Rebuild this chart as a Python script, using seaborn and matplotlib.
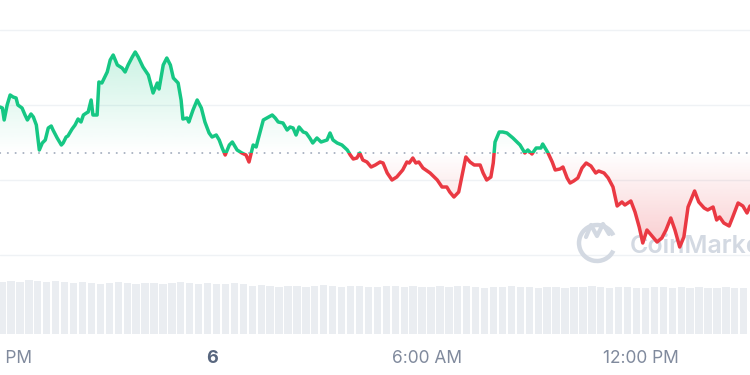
import numpy as np
import pandas as pd
import matplotlib
matplotlib.use("Agg")
import matplotlib.pyplot as plt
import matplotlib.colors as mcolors
import matplotlib.transforms as mtransforms
import seaborn as sns
from matplotlib.patches import Rectangle, Arc
from matplotlib.path import Path
from matplotlib.lines import Line2D

sns.set_style("white")
plt.rcParams['font.family'] = ['Inter', 'DejaVu Sans']

# ---- data (minutes relative to midnight of day 6, price in index units) ----
minutes = [-356, -352, -349, -344, -339, -334, -329, -326, -319, -314, -310, -304, -300, -295,
           -290, -285, -280, -275, -270, -267, -260, -253, -250, -245, -242, -235, -230, -225,
           -220, -216, -211, -208, -203, -200, -193, -190, -185, -176, -171, -166, -159, -151,
           -146, -141, -134, -129, -124, -116, -107, -99, -92, -89, -82, -76, -70, -65, -57,
           -52, -49, -42, -39, -32, -25, -18, -12, -5, 0, 7, 12, 17, 22, 29, 34, 42, 50, 57,
           62, 69, 74, 77, 86, 92, 101, 106, 111, 119, 126, 131, 136, 141, 146, 153, 158, 164,
           169, 176, 183, 193, 198, 203, 210, 218, 227, 232, 237, 243, 248, 253, 260, 267, 274,
           282, 287, 294, 302, 310, 320, 327, 331, 337, 342, 347, 354, 366, 378, 386, 394, 399,
           406, 414, 426, 433, 440, 450, 455, 461, 468, 472, 475, 482, 488, 495, 505, 517, 525,
           530, 537, 544, 552, 555, 564, 571, 576, 584, 589, 596, 601, 607, 614, 621, 628, 636,
           644, 649, 658, 665, 673, 680, 688, 693, 703, 710, 717, 723, 730, 740, 747, 755, 762,
           770, 777, 785, 792, 799, 810, 817, 826, 832, 841, 847, 852, 859, 868, 874, 883, 891,
           898, 903]
price = [223, 222, 210, 225, 235, 233, 232, 225, 222, 215, 210, 216, 213, 205,
         180, 187, 190, 202, 204, 200, 192, 185, 187, 193, 194, 201, 205, 211,
         208, 215, 217, 218, 230, 215, 215, 248, 247, 258, 270, 275, 265, 262,
         258, 265, 273, 278, 273, 263, 255, 237, 247, 241, 265, 272, 265, 252, 247,
         230, 211, 212, 208, 220, 230, 222, 208, 197, 193, 195, 190, 182, 175, 185, 188, 180, 177, 175,
         168, 185, 183, 190, 210, 212, 215, 212, 208, 207, 200, 203, 202, 195, 203, 198, 197, 192,
         187, 192, 188, 190, 197, 190, 187, 185, 180, 175, 171, 172, 177, 170, 168, 163, 165,
         168, 167, 157, 150, 153, 160, 168, 167, 172, 167, 168, 162, 157, 150, 143, 143, 138,
         133, 138, 173, 168, 165, 165, 157, 150, 153, 167, 188, 198, 198, 197, 192, 185, 177,
         180, 176, 182, 182, 186, 177, 168, 160, 161, 163, 152, 147, 149, 152, 162, 167, 164,
         157, 159, 157, 152, 143, 124, 128, 125, 129, 118, 103, 87, 100, 93, 88, 92, 100,
         112, 100, 83, 93, 123, 139, 128, 122, 120, 123, 110, 113, 107, 104, 113, 127, 124,
         117, 124]
open_price = 177

vol_start, vol_step = -360, 15   # 15-minute volume bars
volume = [5.2, 5.3, 5.2, 5.4, 5.3, 5.2, 5.3, 5.2,
          5.1, 5.2, 5.1, 5.0, 5.1, 5.2, 5.1, 5.0, 5.1, 5.1, 5.0, 5.1, 5.2, 5.1, 5.0, 5.1, 5.0, 5.0, 5.1, 5.0,
          4.8, 4.9, 4.8, 4.7, 4.8, 4.8, 4.7, 4.8, 4.9, 4.8,
          4.7, 4.8, 4.8, 4.7, 4.7, 4.8, 4.8, 4.7, 4.8, 4.7,
          4.7, 4.8, 4.7, 4.8, 4.8, 4.7, 4.6, 4.7, 4.7, 4.8,
          4.7, 4.7, 4.6, 4.7, 4.7, 4.6, 4.7, 4.7, 4.8, 4.7,
          4.6, 4.7, 4.7, 4.6, 4.6, 4.7, 4.7, 4.6, 4.7, 4.6,
          4.7, 4.6, 4.6, 4.7, 4.6, 4.6]

tick_minutes = [-360, 0, 360, 720]
tick_labels = ["6:00 PM", "6", "6:00 AM", "12:00 PM"]
grid_levels = [75, 150, 225, 300]

GREEN = "#16c784"
RED = "#ea3943"
XMIN, XMAX = -356, 903

fig = plt.figure(figsize=(7.5, 3.75), dpi=100)
ax = fig.add_axes([0, 105 / 375, 1, 270 / 375])
axv = fig.add_axes([0, 41 / 375, 1, 66 / 375])

df = pd.DataFrame({"t": minutes, "p": price})
x = df["t"].to_numpy(float)
y = df["p"].to_numpy(float)

for g in grid_levels:
    ax.axhline(g, color="#eff2f5", lw=1.0, zorder=0)
ax.axhline(open_price, color="#a7b0c0", lw=1.4, linestyle=(0, (0.1, 3.9)),
           dash_capstyle="round", zorder=1)


def gradient_fill(ax, x, y, base, color, above, amax):
    where = (y >= base) if above else (y <= base)
    coll = ax.fill_between(x, y, base, where=where, interpolate=True,
                           facecolor="none", edgecolor="none", lw=0)
    path = Path.make_compound_path(*coll.get_paths())
    n = 256
    img = np.zeros((n, 1, 4))
    img[:, 0, :3] = mcolors.to_rgb(color)
    if above:
        img[:, 0, 3] = np.linspace(0, amax, n)
        extent = [x.min(), x.max(), base, y.max()]
    else:
        img[:, 0, 3] = np.linspace(amax, 0, n)
        extent = [x.min(), x.max(), y.min(), base]
    im = ax.imshow(img, extent=extent, origin="lower", aspect="auto",
                   zorder=1.5, interpolation="bilinear")
    im.set_clip_path(path, ax.transData)


gradient_fill(ax, x, y, open_price, GREEN, True, 0.22)
gradient_fill(ax, x, y, open_price, RED, False, 0.26)

# watermark
wm = "#d3d9e2"
disp = mtransforms.IdentityTransform()
ax.add_patch(Arc((597, 132), 36, 36, theta1=25, theta2=335, lw=3.2, color=wm,
                 transform=disp, zorder=2))
ax.add_line(Line2D([586, 591, 597, 603, 609], [138, 150, 139, 151, 141],
                   lw=3.0, color=wm, transform=disp, zorder=2, solid_joinstyle="round",
                   solid_capstyle="round"))
ax.text(630, 122, "CoinMarketCap", transform=disp, fontsize=18, color=wm,
        fontweight="semibold", zorder=2, va="baseline", ha="left")

sns.lineplot(x=x, y=y, ax=ax, color=GREEN, lw=2.5, zorder=3)
lg = ax.lines[-1]
lg.set_solid_joinstyle("round")
lg.set_clip_path(Rectangle((XMIN - 200, open_price), 2000, 1000, transform=ax.transData))
sns.lineplot(x=x, y=y, ax=ax, color=RED, lw=2.5, zorder=3)
lr = ax.lines[-1]
lr.set_solid_joinstyle("round")
lr.set_clip_path(Rectangle((XMIN - 200, open_price - 1000), 2000, 1000, transform=ax.transData))

ax.set_xlim(XMIN, XMAX)
ax.set_ylim(60, 330)
ax.set_xticks([])
ax.set_yticks([])
ax.set_xlabel("")
ax.set_ylabel("")
for s in ax.spines.values():
    s.set_visible(False)

vol_t = vol_start + vol_step * (np.arange(len(volume)) + 0.5)
axv.bar(vol_t, volume, width=vol_step * 0.82, color="#eaedf1", lw=0)
axv.set_xlim(XMIN, XMAX)
axv.set_ylim(0, 6.6)
axv.set_xticks([])
axv.set_yticks([])
for s in axv.spines.values():
    s.set_visible(False)

tr = mtransforms.blended_transform_factory(axv.transData, fig.transFigure)
for tm, lab in zip(tick_minutes, tick_labels):
    bold = lab == "6"
    axv.text(tm, 12 / 375, lab, transform=tr, ha="center", va="baseline",
             fontsize=13 if bold else 12.5, fontweight="bold" if bold else "normal",
             color="#58667e" if bold else "#808a9d", clip_on=False)

fig.savefig("out.png", dpi=100, facecolor="white")
